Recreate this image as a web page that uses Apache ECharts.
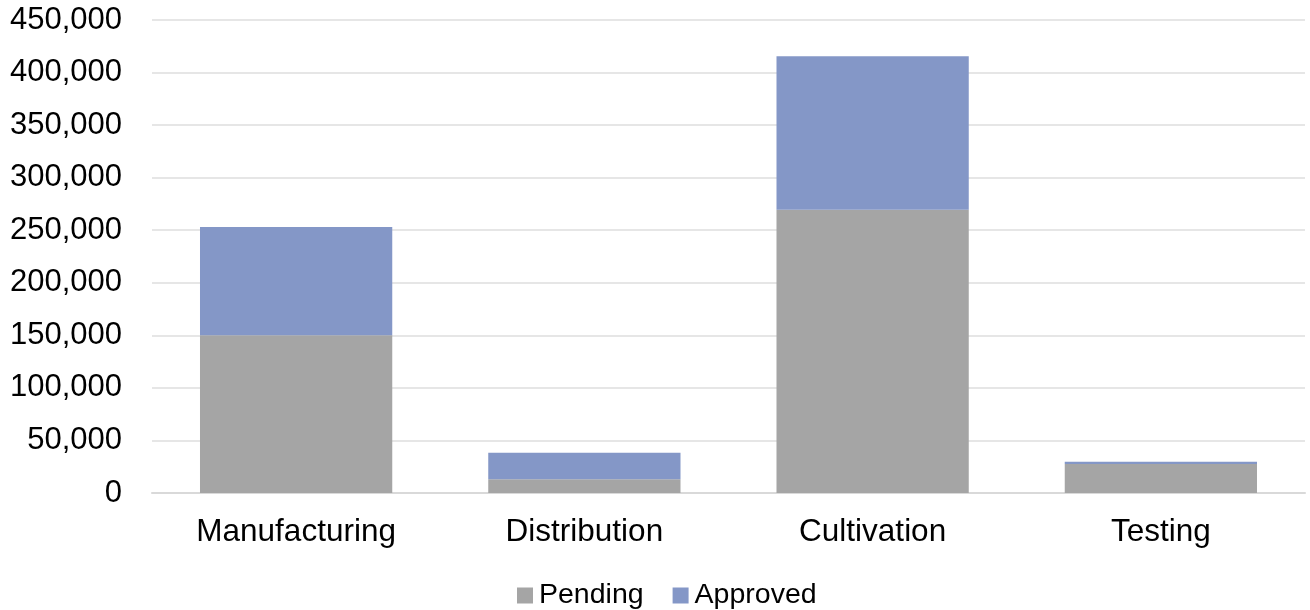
<!DOCTYPE html>
<html>
<head>
<meta charset="utf-8">
<script src="https://cdn.jsdelivr.net/npm/echarts@6/dist/echarts.min.js"></script>
<style>html,body{margin:0;padding:0;background:#fff}#c{width:1310px;height:610px}</style>
</head>
<body>
<div id="c"></div>
<script>
const categories = ['Manufacturing', 'Distribution', 'Cultivation', 'Testing'];
const pending = [150000, 13000, 269500, 27500];
const approved = [103000, 25300, 146000, 2300];
const yTicks = { min: 0, max: 450000, interval: 50000 };

const chart = echarts.init(document.getElementById('c'));
const font = 'Liberation Sans, Arial, sans-serif';
chart.setOption({
  animation: false,
  grid: { left: 152, right: 5, top: 20, bottom: 117 },
  legend: {
    top: 576, left: 512,
    itemWidth: 16, itemHeight: 16, itemGap: 29,
    icon: 'rect',
    textStyle: { fontFamily: font, fontSize: 28.5, color: '#000', padding: [0, 0, 0, 1] },
    data: ['Pending', 'Approved']
  },
  xAxis: {
    type: 'category', data: categories,
    axisLine: { lineStyle: { color: '#d9d9d9', width: 2 } },
    axisTick: { show: false },
    axisLabel: { fontFamily: font, fontSize: 31.5, color: '#000', margin: 23 }
  },
  yAxis: {
    type: 'value', min: yTicks.min, max: yTicks.max, interval: yTicks.interval,
    axisLine: { show: false }, axisTick: { show: false },
    splitLine: { lineStyle: { color: '#e6e6e6', width: 2 } },
    axisLabel: {
      fontFamily: font, fontSize: 31, color: '#000', margin: 30,
      formatter: v => v.toLocaleString('en-US')
    }
  },
  series: [
    { name: 'Pending', type: 'bar', stack: 's', data: pending, barWidth: '66.7%',
      itemStyle: { color: '#a5a5a5' } },
    { name: 'Approved', type: 'bar', stack: 's', data: approved, barWidth: '66.7%',
      itemStyle: { color: '#8497c7' } }
  ]
});
</script>
</body>
</html>
